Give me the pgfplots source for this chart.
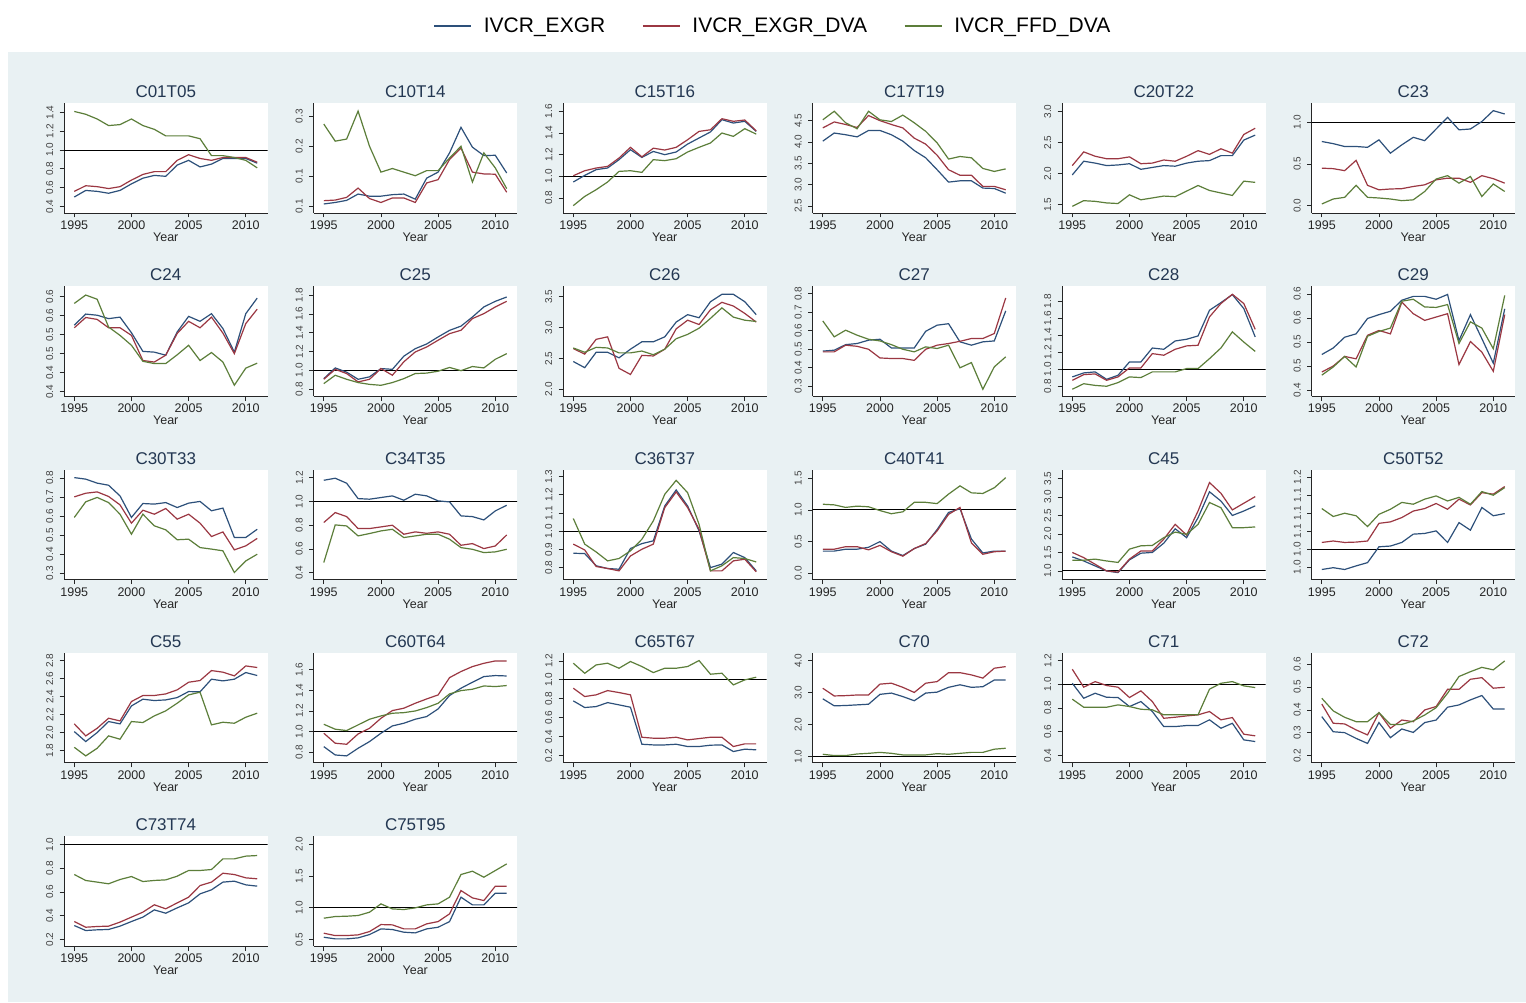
\documentclass[border=0pt]{standalone}
\usepackage{fontspec}
\setmainfont{Liberation Sans}
\usepackage{pgfplots}
\usepackage{pgfplotstable}
\pgfplotsset{compat=1.18}
\definecolor{bg}{RGB}{233,241,243}
\definecolor{cb}{RGB}{45,80,122}
\definecolor{cr}{RGB}{155,55,66}
\definecolor{cg}{RGB}{92,126,58}
\definecolor{tc}{RGB}{35,55,82}

\pgfplotstableread{
yr b r g
1995 0.50 0.56 1.41
1996 0.57 0.62 1.38
1997 0.56 0.61 1.33
1998 0.54 0.59 1.26
1999 0.57 0.61 1.27
2000 0.64 0.68 1.33
2001 0.70 0.74 1.26
2002 0.73 0.77 1.22
2003 0.72 0.77 1.15
2004 0.84 0.89 1.15
2005 0.89 0.95 1.15
2006 0.82 0.91 1.12
2007 0.85 0.89 0.94
2008 0.91 0.92 0.94
2009 0.91 0.92 0.92
2010 0.91 0.92 0.89
2011 0.86 0.87 0.81
}\tA
\pgfplotstableread{
yr b r g
1995 0.008 0.019 0.274
1996 0.013 0.021 0.217
1997 0.020 0.030 0.224
1998 0.041 0.061 0.317
1999 0.034 0.026 0.200
2000 0.034 0.013 0.114
2001 0.039 0.028 0.126
2002 0.041 0.028 0.114
2003 0.024 0.013 0.102
2004 0.094 0.078 0.119
2005 0.114 0.089 0.119
2006 0.178 0.156 0.161
2007 0.263 0.194 0.200
2008 0.197 0.114 0.081
2009 0.169 0.108 0.178
2010 0.170 0.107 0.128
2011 0.111 0.047 0.059
}\tB
\pgfplotstableread{
yr b r g
1995 0.948 1.006 0.730
1996 1.009 1.052 0.815
1997 1.062 1.077 0.877
1998 1.077 1.092 0.948
1999 1.154 1.169 1.046
2000 1.246 1.268 1.052
2001 1.175 1.180 1.037
2002 1.230 1.260 1.154
2003 1.200 1.243 1.145
2004 1.225 1.268 1.163
2005 1.298 1.338 1.225
2006 1.354 1.415 1.268
2007 1.410 1.430 1.308
2008 1.523 1.532 1.400
2009 1.492 1.508 1.369
2010 1.508 1.520 1.440
2011 1.415 1.420 1.390
}\tC
\pgfplotstableread{
yr b r g
1995 4.02 4.33 4.52
1996 4.21 4.47 4.72
1997 4.17 4.41 4.45
1998 4.12 4.34 4.31
1999 4.27 4.62 4.72
2000 4.27 4.50 4.52
2001 4.17 4.41 4.48
2002 4.02 4.33 4.63
2003 3.80 4.09 4.45
2004 3.63 3.95 4.25
2005 3.35 3.69 3.98
2006 3.06 3.35 3.60
2007 3.09 3.22 3.66
2008 3.09 3.22 3.63
2009 2.92 2.96 3.38
2010 2.91 2.96 3.31
2011 2.80 2.88 3.37
}\tD
\pgfplotstableread{
yr b r g
1995 1.98 2.13 1.475
1996 2.20 2.35 1.566
1997 2.17 2.28 1.555
1998 2.13 2.24 1.53
1999 2.14 2.24 1.52
2000 2.16 2.27 1.66
2001 2.07 2.16 1.58
2002 2.10 2.17 1.61
2003 2.13 2.22 1.64
2004 2.12 2.20 1.63
2005 2.17 2.28 1.72
2006 2.20 2.37 1.81
2007 2.21 2.31 1.73
2008 2.29 2.40 1.69
2009 2.29 2.33 1.65
2010 2.54 2.63 1.88
2011 2.62 2.73 1.86
}\tE
\pgfplotstableread{
yr b r g
1995 0.77 0.45 0.02
1996 0.744 0.444 0.08
1997 0.71 0.42 0.10
1998 0.71 0.544 0.244
1999 0.70 0.244 0.10
2000 0.79 0.19 0.092
2001 0.63 0.20 0.08
2002 0.73 0.204 0.06
2003 0.82 0.23 0.07
2004 0.78 0.25 0.17
2005 0.92 0.31 0.32
2006 1.06 0.33 0.36
2007 0.91 0.33 0.27
2008 0.92 0.28 0.35
2009 1.01 0.36 0.11
2010 1.14 0.324 0.26
2011 1.10 0.27 0.17
}\tF
\pgfplotstableread{
yr b r g
1995 0.525 0.518 0.582
1996 0.554 0.545 0.604
1997 0.551 0.540 0.593
1998 0.542 0.518 0.520
1999 0.546 0.518 0.498
2000 0.505 0.498 0.472
2001 0.456 0.432 0.430
2002 0.454 0.428 0.424
2003 0.446 0.446 0.424
2004 0.507 0.503 0.447
2005 0.548 0.535 0.472
2006 0.535 0.518 0.432
2007 0.555 0.546 0.453
2008 0.516 0.504 0.428
2009 0.454 0.450 0.367
2010 0.555 0.529 0.412
2011 0.596 0.567 0.425
}\tG
\pgfplotstableread{
yr b r g
1995 0.910 0.904 0.858
1996 1.025 1.010 0.947
1997 0.980 0.965 0.904
1998 0.904 0.876 0.869
1999 0.930 0.904 0.850
2000 1.018 1.018 0.840
2001 1.010 0.947 0.869
2002 1.150 1.090 0.911
2003 1.230 1.195 0.965
2004 1.280 1.248 0.970
2005 1.355 1.320 0.990
2006 1.425 1.390 1.030
2007 1.470 1.426 0.996
2008 1.567 1.550 1.040
2009 1.674 1.603 1.025
2010 1.734 1.674 1.117
2011 1.780 1.734 1.177
}\tH
\pgfplotstableread{
yr b r g
1995 2.45 2.66 2.67
1996 2.35 2.57 2.60
1997 2.60 2.81 2.68
1998 2.60 2.85 2.67
1999 2.51 2.34 2.59
2000 2.65 2.24 2.59
2001 2.77 2.55 2.62
2002 2.77 2.54 2.56
2003 2.85 2.65 2.65
2004 3.09 2.98 2.82
2005 3.21 3.12 2.89
2006 3.16 3.05 2.99
2007 3.42 3.29 3.15
2008 3.54 3.41 3.32
2009 3.54 3.35 3.17
2010 3.42 3.23 3.12
2011 3.21 3.09 3.10
}\tI
\pgfplotstableread{
yr b r g
1995 0.490 0.486 0.653
1996 0.495 0.486 0.567
1997 0.525 0.522 0.603
1998 0.531 0.516 0.576
1999 0.549 0.500 0.554
2000 0.554 0.453 0.545
2001 0.507 0.450 0.525
2002 0.507 0.450 0.500
2003 0.507 0.440 0.486
2004 0.597 0.500 0.513
2005 0.630 0.522 0.504
2006 0.638 0.531 0.522
2007 0.540 0.543 0.400
2008 0.522 0.558 0.428
2009 0.540 0.558 0.284
2010 0.545 0.585 0.405
2011 0.707 0.777 0.459
}\tJ
\pgfplotstableread{
yr b r g
1995 0.910 0.870 0.765
1996 0.957 0.937 0.830
1997 0.969 0.945 0.810
1998 0.882 0.870 0.800
1999 0.929 0.910 0.843
2000 1.086 1.016 0.910
2001 1.086 1.016 0.902
2002 1.250 1.184 0.969
2003 1.235 1.165 0.969
2004 1.333 1.235 0.969
2005 1.353 1.275 1.008
2006 1.392 1.282 1.008
2007 1.694 1.616 1.125
2008 1.784 1.773 1.250
2009 1.878 1.882 1.440
2010 1.714 1.773 1.320
2011 1.380 1.470 1.210
}\tK
\pgfplotstableread{
yr b r g
1995 0.474 0.4375 0.431
1996 0.4875 0.450 0.448
1997 0.510 0.470 0.470
1998 0.517 0.465 0.448
1999 0.549 0.514 0.512
2000 0.557 0.524 0.522
2001 0.564 0.517 0.529
2002 0.587 0.583 0.585
2003 0.595 0.559 0.589
2004 0.595 0.545 0.573
2005 0.589 0.552 0.572
2006 0.599 0.559 0.578
2007 0.503 0.453 0.497
2008 0.557 0.501 0.542
2009 0.507 0.479 0.529
2010 0.456 0.439 0.486
2011 0.569 0.557 0.597
}\tL
\pgfplotstableread{
yr b r g
1995 0.802 0.701 0.593
1996 0.794 0.720 0.675
1997 0.773 0.727 0.698
1998 0.762 0.703 0.671
1999 0.706 0.659 0.610
2000 0.593 0.563 0.505
2001 0.666 0.631 0.610
2002 0.663 0.610 0.549
2003 0.671 0.640 0.528
2004 0.645 0.584 0.476
2005 0.668 0.610 0.479
2006 0.677 0.563 0.435
2007 0.628 0.493 0.427
2008 0.642 0.517 0.418
2009 0.488 0.423 0.304
2010 0.488 0.444 0.365
2011 0.531 0.483 0.400
}\tM
\pgfplotstableread{
yr b r g
1995 1.180 0.823 0.485
1996 1.197 0.907 0.803
1997 1.155 0.873 0.794
1998 1.025 0.772 0.710
1999 1.020 0.772 0.730
2000 1.034 0.786 0.752
2001 1.048 0.800 0.766
2002 1.011 0.724 0.696
2003 1.062 0.744 0.710
2004 1.048 0.732 0.724
2005 1.006 0.744 0.724
2006 0.997 0.724 0.682
2007 0.879 0.631 0.611
2008 0.873 0.645 0.597
2009 0.845 0.603 0.569
2010 0.921 0.625 0.575
2011 0.969 0.718 0.597
}\tN
\pgfplotstableread{
yr b r g
1995 0.879 0.929 1.070
1996 0.877 0.897 0.929
1997 0.810 0.806 0.886
1998 0.795 0.795 0.837
1999 0.791 0.782 0.850
2000 0.905 0.864 0.892
2001 0.932 0.901 0.956
2002 0.947 0.929 1.057
2003 1.139 1.130 1.203
2004 1.227 1.216 1.280
2005 1.139 1.130 1.212
2006 1.002 1.011 1.038
2007 0.800 0.782 0.782
2008 0.819 0.782 0.810
2009 0.883 0.837 0.855
2010 0.855 0.846 0.850
2011 0.782 0.777 0.831
}\tO
\pgfplotstableread{
yr b r g
1995 0.35 0.38 1.09
1996 0.35 0.38 1.08
1997 0.38 0.42 1.04
1998 0.38 0.42 1.06
1999 0.41 0.37 1.05
2000 0.50 0.44 0.99
2001 0.35 0.34 0.94
2002 0.28 0.27 0.97
2003 0.39 0.39 1.12
2004 0.46 0.47 1.12
2005 0.69 0.67 1.10
2006 0.96 0.93 1.25
2007 1.02 1.04 1.38
2008 0.54 0.48 1.27
2009 0.32 0.30 1.26
2010 0.35 0.34 1.35
2011 0.35 0.35 1.51
}\tP
\pgfplotstableread{
yr b r g
1995 1.38 1.50 1.29
1996 1.27 1.36 1.29
1997 1.135 1.18 1.32
1998 1.00 1.00 1.27
1999 0.955 0.97 1.23
2000 1.30 1.32 1.59
2001 1.48 1.54 1.68
2002 1.50 1.54 1.69
2003 1.75 1.86 1.90
2004 2.14 2.26 2.05
2005 1.90 1.97 1.99
2006 2.44 2.62 2.26
2007 3.14 3.39 2.85
2008 2.89 3.10 2.71
2009 2.50 2.65 2.17
2010 2.62 2.83 2.17
2011 2.76 3.01 2.19
}\tQ
\pgfplotstableread{
yr b r g
1995 0.944 1.019 1.113
1996 0.949 1.023 1.091
1997 0.944 1.019 1.100
1998 0.954 1.020 1.093
1999 0.963 1.023 1.063
2000 1.007 1.072 1.097
2001 1.009 1.076 1.111
2002 1.019 1.088 1.130
2003 1.042 1.106 1.125
2004 1.044 1.113 1.139
2005 1.051 1.127 1.148
2006 1.019 1.111 1.134
2007 1.074 1.139 1.144
2008 1.053 1.123 1.125
2009 1.116 1.157 1.160
2010 1.093 1.153 1.150
2011 1.099 1.174 1.171
}\tR
\pgfplotstableread{
yr b r g
1995 2.011 2.097 1.836
1996 1.900 1.963 1.740
1997 2.000 2.048 1.825
1998 2.123 2.160 1.963
1999 2.097 2.130 1.926
2000 2.297 2.346 2.123
2001 2.372 2.413 2.112
2002 2.357 2.413 2.186
2003 2.364 2.431 2.242
2004 2.390 2.476 2.327
2005 2.457 2.561 2.420
2006 2.454 2.580 2.450
2007 2.595 2.691 2.086
2008 2.576 2.673 2.115
2009 2.595 2.632 2.104
2010 2.669 2.743 2.171
2011 2.636 2.725 2.216
}\tS
\pgfplotstableread{
yr b r g
1995 0.854 0.984 1.071
1996 0.773 0.887 1.023
1997 0.764 0.877 1.010
1998 0.838 0.977 1.065
1999 0.903 1.032 1.120
2000 0.984 1.129 1.152
2001 1.055 1.204 1.178
2002 1.081 1.227 1.184
2003 1.120 1.275 1.200
2004 1.146 1.317 1.233
2005 1.220 1.356 1.275
2006 1.350 1.524 1.366
2007 1.421 1.583 1.398
2008 1.479 1.631 1.411
2009 1.534 1.663 1.443
2010 1.544 1.686 1.437
2011 1.540 1.686 1.447
}\tT
\pgfplotstableread{
yr b r g
1995 0.778 0.912 1.176
1996 0.708 0.824 1.070
1997 0.718 0.842 1.158
1998 0.760 0.887 1.176
1999 0.736 0.866 1.123
2000 0.711 0.842 1.194
2001 0.320 0.394 1.141
2002 0.313 0.384 1.077
2003 0.313 0.384 1.123
2004 0.320 0.394 1.123
2005 0.296 0.366 1.141
2006 0.296 0.380 1.204
2007 0.310 0.394 1.060
2008 0.313 0.394 1.070
2009 0.243 0.296 0.947
2010 0.268 0.324 1.000
2011 0.261 0.324 1.028
}\tU
\pgfplotstableread{
yr b r g
1995 2.81 3.14 1.07
1996 2.59 2.90 1.03
1997 2.60 2.91 1.03
1998 2.62 2.93 1.08
1999 2.64 2.93 1.10
2000 2.95 3.27 1.13
2001 2.99 3.30 1.10
2002 2.88 3.17 1.05
2003 2.75 3.01 1.05
2004 2.99 3.30 1.05
2005 3.02 3.35 1.09
2006 3.17 3.63 1.07
2007 3.25 3.63 1.10
2008 3.17 3.56 1.13
2009 3.19 3.46 1.13
2010 3.40 3.77 1.23
2011 3.40 3.82 1.26
}\tV
\pgfplotstableread{
yr b r g
1995 1.008 1.126 0.874
1996 0.882 0.975 0.806
1997 0.924 1.022 0.806
1998 0.890 0.989 0.806
1999 0.888 0.975 0.826
2000 0.812 0.888 0.812
2001 0.854 0.944 0.789
2002 0.770 0.854 0.784
2003 0.643 0.713 0.742
2004 0.643 0.722 0.742
2005 0.652 0.733 0.742
2006 0.652 0.742 0.742
2007 0.700 0.770 0.958
2008 0.629 0.700 1.008
2009 0.671 0.719 1.022
2010 0.531 0.579 0.986
2011 0.517 0.565 0.972
}\tW
\pgfplotstableread{
yr b r g
1995 0.371 0.426 0.451
1996 0.305 0.342 0.396
1997 0.301 0.339 0.368
1998 0.276 0.313 0.349
1999 0.254 0.291 0.349
2000 0.345 0.388 0.388
2001 0.279 0.320 0.337
2002 0.317 0.356 0.337
2003 0.302 0.349 0.352
2004 0.345 0.400 0.378
2005 0.356 0.415 0.410
2006 0.412 0.490 0.473
2007 0.422 0.490 0.546
2008 0.444 0.534 0.567
2009 0.463 0.541 0.586
2010 0.404 0.495 0.575
2011 0.404 0.499 0.614
}\tX
\pgfplotstableread{
yr b r g
1995 0.317 0.351 0.747
1996 0.275 0.303 0.697
1997 0.281 0.309 0.683
1998 0.284 0.312 0.669
1999 0.312 0.346 0.705
2000 0.351 0.388 0.730
2001 0.388 0.430 0.688
2002 0.449 0.492 0.697
2003 0.421 0.458 0.702
2004 0.466 0.508 0.733
2005 0.508 0.556 0.781
2006 0.584 0.654 0.781
2007 0.618 0.683 0.789
2008 0.683 0.758 0.879
2009 0.691 0.747 0.879
2010 0.660 0.719 0.902
2011 0.649 0.711 0.907
}\tY
\pgfplotstableread{
yr b r g
1995 0.539 0.602 0.838
1996 0.513 0.565 0.864
1997 0.513 0.565 0.869
1998 0.529 0.576 0.880
1999 0.581 0.628 0.932
2000 0.670 0.738 1.063
2001 0.660 0.733 0.984
2002 0.618 0.670 0.974
2003 0.607 0.670 1.000
2004 0.670 0.749 1.047
2005 0.696 0.785 1.063
2006 0.785 0.906 1.168
2007 1.168 1.272 1.524
2008 1.047 1.157 1.576
2009 1.047 1.115 1.482
2010 1.230 1.340 1.586
2011 1.230 1.340 1.691
}\tZ

\pgfplotsset{
  panel/.style={
    scale only axis, width=203.5pt, height=110pt, anchor=south west,
    xmin=1994.1, xmax=2011.9,
    axis x line*=bottom, axis y line*=left,
    axis line style={-, line width=0.9pt, black!85},
    axis background/.style={fill=white},
    xtick={1995,2000,2005,2010}, xticklabels={1995,2000,2005,2010},
    minor tick num=0,
    tick align=outside, major tick length=4.5pt,
    tick style={line width=0.8pt, black!85},
    xticklabel style={font=\fontsize{12.5}{13}\selectfont, color=black!85, inner sep=0pt, anchor=north, yshift=-3pt},
    yticklabel style={font=\fontsize{10}{11}\selectfont, color=black!75, rotate=90, anchor=south, inner xsep=0pt, inner ysep=6pt},
    xlabel={Year},
    xlabel style={font=\fontsize{12.5}{13}\selectfont, color=black!85, at={(axis description cs:0.5,0)}, anchor=base, yshift=-28.5pt},
    title style={font=\fontsize{17}{18}\selectfont, color=tc, at={(axis description cs:0.5,1)}, anchor=base, yshift=-0.5pt},
  },
  sb/.style={cb, line width=1.2pt},
  sr/.style={cr, line width=1.2pt},
  sg/.style={cg, line width=1.2pt},
}

\newcommand\panel[7]{%
\begin{axis}[panel, at={(#1pt,#2pt)}, title={#3}, ymin=#5, ymax=#6, #7]
\addplot[sb] table[x=yr,y=b]{#4};
\addplot[sr] table[x=yr,y=r]{#4};
\addplot[sg] table[x=yr,y=g]{#4};
\end{axis}}
\newcommand\panelR[7]{%
\begin{axis}[panel, at={(#1pt,#2pt)}, title={#3}, ymin=#5, ymax=#6, #7]
\addplot[black, line width=0.9pt] coordinates {(1993,1) (2013,1)};
\addplot[sb] table[x=yr,y=b]{#4};
\addplot[sr] table[x=yr,y=r]{#4};
\addplot[sg] table[x=yr,y=g]{#4};
\end{axis}}

\begin{document}
\begin{tikzpicture}[x=1pt,y=1pt]
\fill[white] (0,0) rectangle (1526,1002);
\fill[bg] (8,0) rectangle (1526,950);
\useasboundingbox (0,0) rectangle (1526,1002);

% legend
\begin{axis}[hide axis, scale only axis, width=10pt, height=10pt, at={(772pt,976pt)}, anchor=center,
  xmin=0, xmax=1, ymin=0, ymax=1,
  legend columns=3,
  legend style={at={(0.5,0.5)}, anchor=center, draw=none, fill=none,
    font=\fontsize{21}{22}\selectfont,
    nodes={inner xsep=0pt, inner ysep=2pt},
    /tikz/every odd column/.append style={column sep=12pt},
    /tikz/every even column/.append style={column sep=37pt}},
  legend image code/.code={\draw[#1] (0pt,0pt) -- (37pt,0pt);}]
\addlegendimage{sb}\addlegendentry{IVCR\_EXGR}
\addlegendimage{sr}\addlegendentry{IVCR\_EXGR\_DVA}
\addlegendimage{sg}\addlegendentry{IVCR\_FFD\_DVA}
\end{axis}

% row 1
\panelR{64}{789}{C01T05}{\tA}{0.33}{1.50}{ytick={0.4,0.6,0.8,1.0,1.2,1.4}, yticklabels={0.4,0.6,0.8,1.0,1.2,1.4}}
\panel{313.5}{789}{C10T14}{\tB}{-0.022}{0.344}{ytick={0,0.1,0.2,0.3}, yticklabels={0.1,0.1,0.2,0.3}}
\panelR{563}{789}{C15T16}{\tC}{0.662}{1.677}{ytick={0.8,1.0,1.2,1.4,1.6}, yticklabels={0.8,1.0,1.2,1.4,1.6}}
\panel{812.5}{789}{C17T19}{\tD}{2.336}{4.914}{ytick={2.5,3.0,3.5,4.0,4.5}, yticklabels={2.5,3.0,3.5,4.0,4.5}}
\panel{1062}{789}{C20T22}{\tE}{1.368}{3.136}{ytick={1.5,2.0,2.5,3.0}, yticklabels={1.5,2.0,2.5,3.0}}
\panelR{1311.5}{789}{C23}{\tF}{-0.088}{1.232}{ytick={0,0.5,1.0}, yticklabels={0.0,0.5,1.0}}
% row 2
\panel{64}{605.7}{C24}{\tG}{0.338}{0.627}{ytick={0.35,0.40,0.45,0.50,0.55,0.60}, yticklabels={0.4,0.4,0.5,0.5,0.6,0.6}}
\panelR{313.5}{605.7}{C25}{\tH}{0.723}{1.894}{ytick={0.8,1.0,1.2,1.4,1.6,1.8}, yticklabels={0.8,1.0,1.2,1.4,1.6,1.8}}
\panel{563}{605.7}{C26}{\tI}{1.886}{3.67}{ytick={2.0,2.5,3.0,3.5}, yticklabels={2.0,2.5,3.0,3.5}}
\panel{812.5}{605.7}{C27}{\tJ}{0.246}{0.84}{ytick={0.3,0.4,0.5,0.6,0.7,0.8}, yticklabels={0.3,0.4,0.5,0.6,0.7,0.8}}
\panelR{1062}{605.7}{C28}{\tK}{0.682}{1.976}{ytick={0.8,1.0,1.2,1.4,1.6,1.8}, yticklabels={0.8,1.0,1.2,1.4,1.6,1.8}}
\panel{1311.5}{605.7}{C29}{\tL}{0.387}{0.616}{ytick={0.40,0.45,0.50,0.55,0.60}, yticklabels={0.4,0.5,0.5,0.6,0.6}}
% row 3
\panel{64}{422.4}{C30T33}{\tM}{0.267}{0.844}{ytick={0.3,0.4,0.5,0.6,0.7,0.8}, yticklabels={0.3,0.4,0.5,0.6,0.7,0.8}}
\panelR{313.5}{422.4}{C34T35}{\tN}{0.341}{1.27}{ytick={0.4,0.6,0.8,1.0,1.2}, yticklabels={0.4,0.6,0.8,1.0,1.2}}
\panelR{563}{422.4}{C36T37}{\tO}{0.734}{1.339}{ytick={0.8,0.9,1.0,1.1,1.2,1.3}, yticklabels={0.8,0.9,1.0,1.1,1.2,1.3}}
\panelR{812.5}{422.4}{C40T41}{\tP}{-0.1}{1.637}{ytick={0,0.5,1.0,1.5}, yticklabels={0.0,0.5,1.0,1.5}}
\panelR{1062}{422.4}{C45}{\tQ}{0.766}{3.74}{ytick={1.0,1.5,2.0,2.5,3.0,3.5}, yticklabels={1.0,1.5,2.0,2.5,3.0,3.5}}
\panelR{1311.5}{422.4}{C50T52}{\tR}{0.916}{1.221}{ytick={0.95,1.00,1.05,1.10,1.15,1.20}, yticklabels={1.0,1.0,1.1,1.1,1.1,1.2}}
% row 4
\panel{64}{239.1}{C55}{\tS}{1.662}{2.888}{ytick={1.8,2.0,2.2,2.4,2.6,2.8}, yticklabels={1.8,2.0,2.2,2.4,2.6,2.8}}
\panelR{313.5}{239.1}{C60T64}{\tT}{0.696}{1.764}{ytick={0.8,1.0,1.2,1.4,1.6}, yticklabels={0.8,1.0,1.2,1.4,1.6}}
\panelR{563}{239.1}{C65T67}{\tU}{0.123}{1.285}{ytick={0.2,0.4,0.6,0.8,1.0,1.2}, yticklabels={0.2,0.4,0.6,0.8,1.0,1.2}}
\panelR{812.5}{239.1}{C70}{\tV}{0.80}{4.25}{ytick={1,2,3,4}, yticklabels={1.0,2.0,3.0,4.0}}
\panelR{1062}{239.1}{C71}{\tW}{0.337}{1.264}{ytick={0.4,0.6,0.8,1.0,1.2}, yticklabels={0.4,0.6,0.8,1.0,1.2}}
\panel{1311.5}{239.1}{C72}{\tX}{0.169}{0.649}{ytick={0.2,0.3,0.4,0.5,0.6}, yticklabels={0.2,0.3,0.4,0.5,0.6}}
% row 5
\panelR{64}{55.8}{C73T74}{\tY}{0.143}{1.07}{ytick={0.2,0.4,0.6,0.8,1.0}, yticklabels={0.2,0.4,0.6,0.8,1.0}}
\panelR{313.5}{55.8}{C75T95}{\tZ}{0.398}{2.126}{ytick={0.5,1.0,1.5,2.0}, yticklabels={0.5,1.0,1.5,2.0}}
\end{tikzpicture}
\end{document}
